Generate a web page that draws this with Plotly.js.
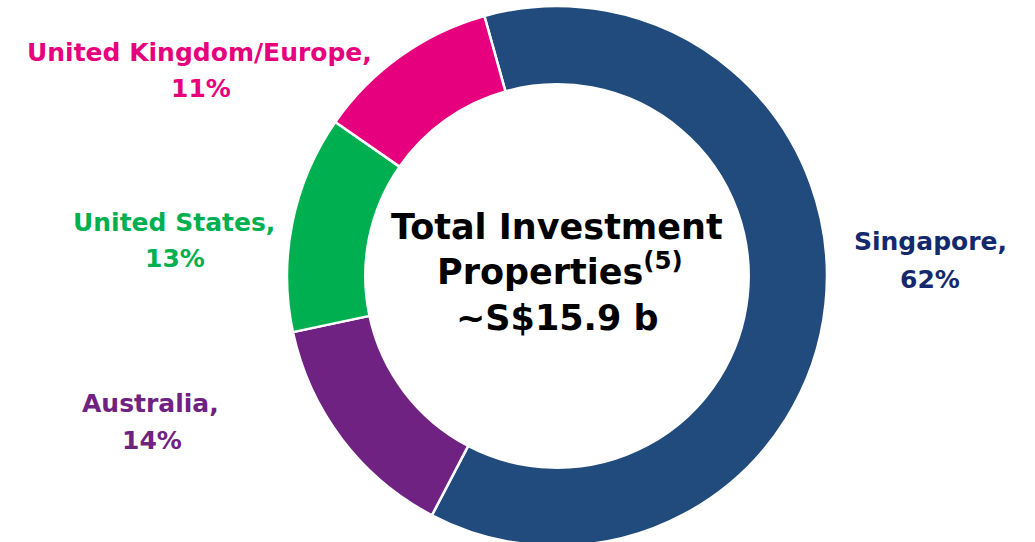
<!DOCTYPE html>
<html>
<head>
<meta charset="utf-8">
<script src="https://cdn.plot.ly/plotly-3.0.1.min.js"></script>
<style>
  html, body { margin: 0; padding: 0; background: #ffffff; overflow: hidden; }
  #chart { width: 1035px; height: 546px; }
</style>
</head>
<body>
<div id="chart"></div>
<script>
// ---- Data ----
const regions = ["Singapore", "Australia", "United States", "United Kingdom/Europe"];
const shares = [62, 14, 13, 11];
const centerLines = ["Total Investment", "Properties<sup>(5)</sup>", "~S$15.9 b"];

// ---- Styles ----
const sliceColors = ["#214A7D", "#702283", "#00B050", "#E6007E"];
const labelColors = ["#14296B", "#702283", "#00B050", "#E6007E"];

// label line positions (paper coords): [line1 x, line1 y, line2 x, line2 y]
const labelPos = [
  [0.8995, 0.5648, 0.8986, 0.4935],
  [0.1454, 0.2630, 0.1464, 0.1954],
  [0.1681, 0.5991, 0.1691, 0.5315],
  [0.1932, 0.9139, 0.1942, 0.8463]
];
const centerPos = [
  [0.5377, 0.5905],
  [0.5406, 0.5125],
  [0.5386, 0.4217]
];

const FONT = "DejaVu Sans, Verdana, sans-serif";
const LABEL_SIZE = 25;
const CENTER_SIZE = 35;

const trace = {
  type: "pie",
  labels: regions,
  values: shares,
  sort: false,
  direction: "clockwise",
  rotation: -15.6,
  hole: 0.71,
  textinfo: "none",
  hoverinfo: "label+percent",
  marker: { colors: sliceColors, line: { color: "#ffffff", width: 2.5 } },
  domain: { x: [0.2773, 0.7990], y: [0, 1] },
  showlegend: false
};

function ann(x, y, text, size, color) {
  return {
    xref: "paper", yref: "paper", x: x, y: y,
    xanchor: "center", yanchor: "middle",
    showarrow: false, align: "center",
    text: "<b>" + text + "</b>",
    font: { family: FONT, size: size, color: color }
  };
}

const annotations = [];
regions.forEach((r, i) => {
  const p = labelPos[i];
  annotations.push(ann(p[0], p[1], r + ",", LABEL_SIZE, labelColors[i]));
  annotations.push(ann(p[2], p[3], shares[i] + "%", LABEL_SIZE, labelColors[i]));
});
centerLines.forEach((t, i) => {
  annotations.push(ann(centerPos[i][0], centerPos[i][1], t, CENTER_SIZE, "#000000"));
});

const layout = {
  width: 1035, height: 546,
  margin: { l: 0, r: 0, t: 6, b: 0 },
  paper_bgcolor: "#ffffff",
  plot_bgcolor: "#ffffff",
  annotations: annotations,
  showlegend: false
};

Plotly.newPlot("chart", [trace], layout, { displayModeBar: false, staticPlot: true });
</script>
</body>
</html>
